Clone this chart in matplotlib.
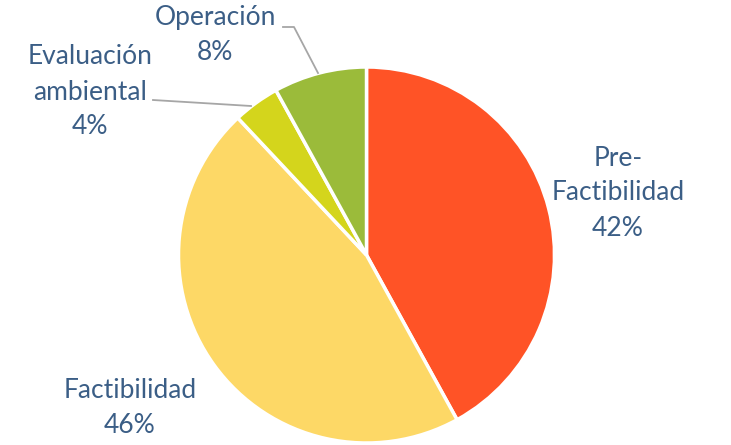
import matplotlib.pyplot as plt

labels = ['Pre-\nFactibilidad', 'Factibilidad', 'Evaluación\nambiental', 'Operación']
values = [42, 46, 4, 8]
colors = ['#FF5326', '#FDD866', '#D4D51C', '#9BBB3A']

text_color = '#3B5E86'
plt.rcParams['font.family'] = ['Lato', 'DejaVu Sans']

fig = plt.figure(figsize=(7.31, 4.45), dpi=100)
ax = fig.add_axes([0, 0, 1, 1])

# pie in pixel coords (y up)
cx, cy, r = 366.5, 190, 188
ax.pie(values, colors=colors, startangle=90, counterclock=False,
       center=(cx, cy), radius=r, frame=True,
       wedgeprops=dict(edgecolor='white', linewidth=2.5))
ax.set_xlim(0, 731)
ax.set_ylim(0, 445)
ax.axis('off')

# labels (pixel positions from top-left)
label_pos = [(618, 193), (130, 408), (90, 92), (215, 35)]
for lab, v, (x, y) in zip(labels, values, label_pos):
    ax.text(x, 445 - y, f'{lab}\n{v}%', ha='center', va='center',
            color=text_color, fontsize=19, linespacing=1.5)

# leader lines
ax.plot([283, 294, 318], [445 - 27, 445 - 27, 445 - 73], color='#A6A6A6', lw=1.3)
ax.plot([153, 251], [445 - 100, 445 - 106], color='#A6A6A6', lw=1.3)

fig.savefig('out.png', dpi=100)
